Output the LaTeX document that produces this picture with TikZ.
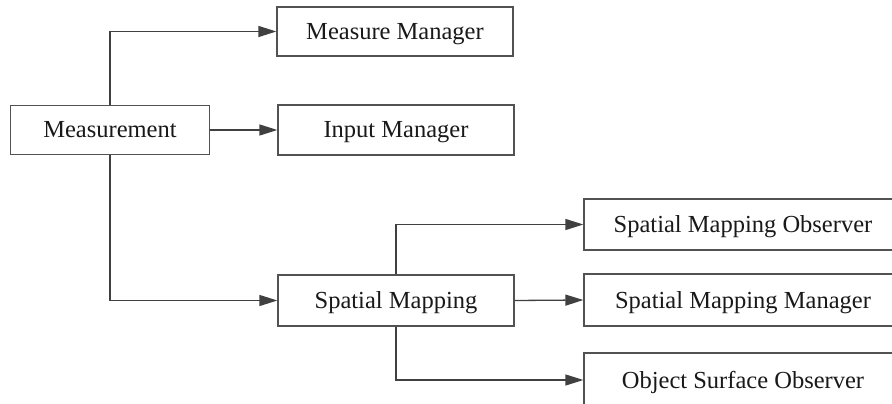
\documentclass[tikz,border=0pt]{standalone}
\usepackage{fontspec}
\setmainfont{Liberation Serif}[Scale=1.0]
\usetikzlibrary{arrows.meta}
\begin{document}
\begin{tikzpicture}[x=1pt,y=-1pt,
  box/.style={draw=black!68,line width=1.3pt,fill=white,inner sep=0pt,
    font=\rmfamily\fontsize{24.5}{28}\selectfont,text=black!90,text depth=1pt},
  conn/.style={draw=black!75,line width=1.3pt,-{Triangle[length=18pt,width=11pt]}}]
\clip (0,0) rectangle (892,404);
\fill[white] (0,0) rectangle (892,404);
\node[box,minimum width=199pt,minimum height=49pt] (meas) at (110,130) {Measurement};
\node[box,minimum width=236pt,minimum height=49pt] (mm) at (395,31.5) {Measure Manager};
\node[box,minimum width=236pt,minimum height=50pt] (im) at (396,130) {Input Manager};
\node[box,minimum width=236pt,minimum height=51pt] (sm) at (396,300.5) {Spatial Mapping};
\node[box,minimum width=318pt,minimum height=51pt] (smo) at (743,224.5) {Spatial Mapping Observer};
\node[box,minimum width=318pt,minimum height=52pt] (smm) at (743,300) {Spatial Mapping Manager};
\node[box,minimum width=318pt,minimum height=54pt] (oso) at (743,380) {Object Surface Observer};
\draw[conn] (meas.north) |- (mm.west);
\draw[conn] (meas.east) -- (im.west);
\draw[conn] (meas.south) |- (sm.west);
\draw[conn] (sm.north) |- (smo.west);
\draw[conn] (sm.east) -- (smm.west);
\draw[conn] (sm.south) |- (oso.west);
\end{tikzpicture}
\end{document}
